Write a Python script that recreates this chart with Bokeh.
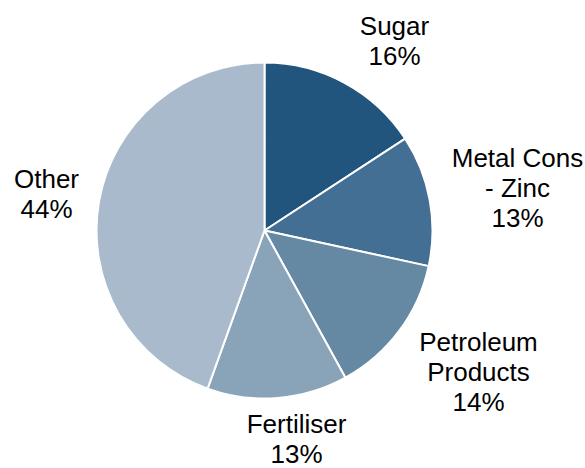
import math
from bokeh.plotting import figure
from bokeh.models import Range1d, ColumnDataSource
from bokeh.core.properties import value
from bokeh.embed import file_html
from bokeh.resources import INLINE

# ---- data ----
categories = ["Sugar", "Metal Cons\n- Zinc", "Petroleum\nProducts", "Fertiliser", "Other"]
shares = [15.8, 12.6, 13.6, 13.5, 44.5]
pct_labels = ["16%", "13%", "14%", "13%", "44%"]
colors = ["#22557d", "#426f93", "#6588a3", "#89a4b9", "#a8bacb"]

# ---- layout (picture pixels) ----
W, H = 585, 468
CX, CY, R = 264, 230, 168
label_anchor = [(394, 36), (517, 168), (478, 352), (296, 434), (46, 189)]  # first baseline
LINE = 30
BASE_SHIFT = 10.5  # renderer places alphabetic baseline lower; compensate

def ty(y):
    return H - y

total = sum(shares)
starts, ends = [], []
c = 0.0
for s in shares:
    starts.append(math.pi / 2 - 2 * math.pi * c / total)
    c += s
    ends.append(math.pi / 2 - 2 * math.pi * c / total)

wsrc = ColumnDataSource(dict(start=starts, end=ends, color=colors, cat=categories))

p = figure(width=W, height=H, x_range=Range1d(0, W), y_range=Range1d(0, H),
           output_backend="svg", toolbar_location=None, min_border=0,
           outline_line_color=None, background_fill_color="white",
           border_fill_color="white")
p.axis.visible = False
p.grid.visible = False

p.wedge(x=CX, y=ty(CY), radius=R, radius_units="screen",
        start_angle="start", end_angle="end", direction="clock",
        fill_color="color", line_color="white", line_width=2, source=wsrc)

tx, tyy, tt = [], [], []
for cat, pct, (ax, ay) in zip(categories, pct_labels, label_anchor):
    lines = cat.split("\n") + [pct]
    for i, ln in enumerate(lines):
        tx.append(ax)
        tyy.append(ty(ay + i * LINE - BASE_SHIFT))
        tt.append(ln)

tsrc = ColumnDataSource(dict(x=tx, y=tyy, t=tt))
p.text(x="x", y="y", text="t", source=tsrc, text_font=value("Liberation Sans"),
       text_font_size=value("26px"), text_align="center", text_baseline="alphabetic",
       text_color="#000000")

open("out.html", "w").write(file_html(p, INLINE))
